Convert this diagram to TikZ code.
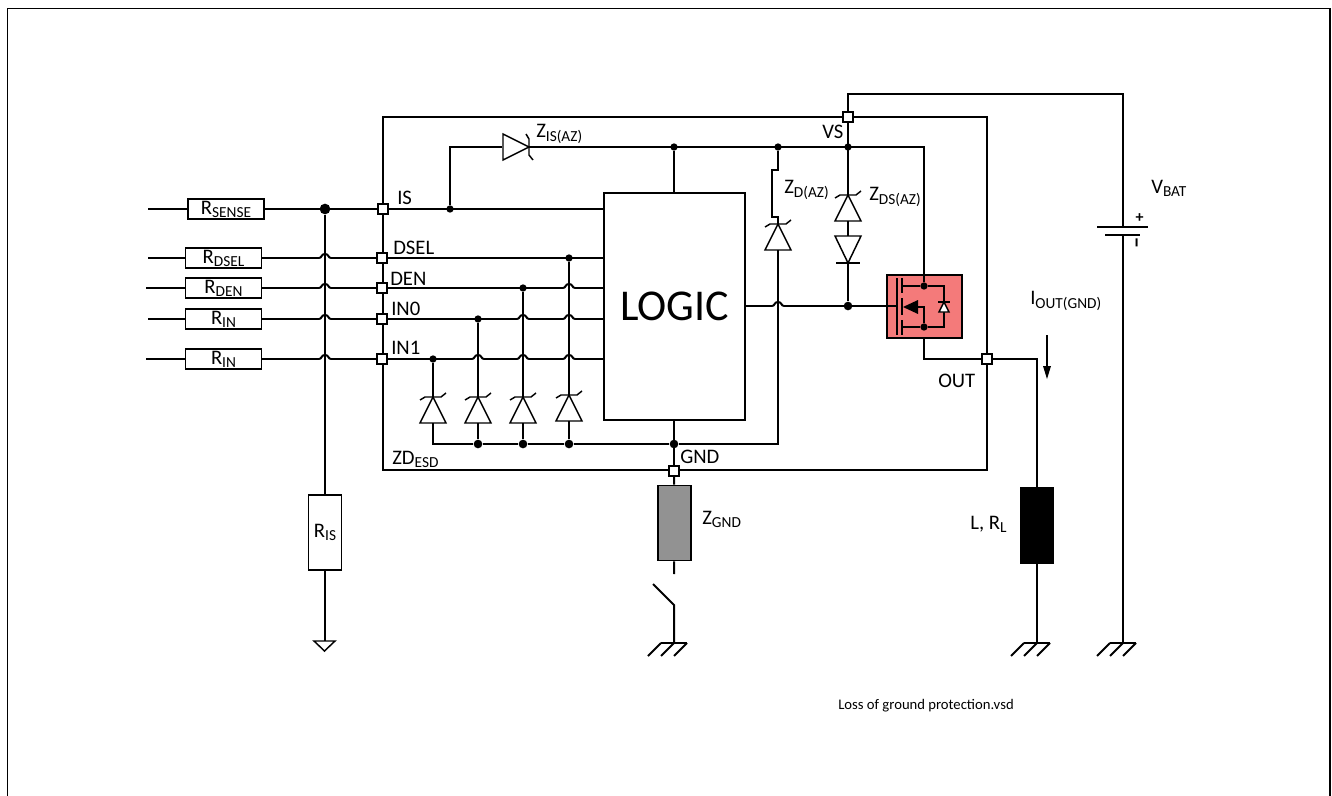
\documentclass[tikz,border=0pt]{standalone}
\usepackage{fontspec}
\setmainfont{Carlito}
\usetikzlibrary{backgrounds}

\newcommand{\lowtext}[2]{#1\raisebox{-0.32ex}{\fontsize{11.5}{11.5}\selectfont #2}}
\newcommand{\hop}[2]{
  \fill[white] (#1-6,#2-1.5) rectangle (#1+6,#2+1.5);
  \draw[wire] (#1-6,#2) .. controls (#1-3,#2) and (#1-4,#2-4) .. (#1,#2-4) .. controls (#1+4,#2-4) and (#1+3,#2) .. (#1+6,#2);
}

\tikzset{
  wire/.style={line width=1.5pt},
  thin wire/.style={line width=1.1pt},
  pinbox/.style={draw,fill=white,line width=1.1pt,minimum size=7.5pt,inner sep=0pt},
  resbox/.style={draw,fill=white,line width=1.1pt,minimum width=57pt,minimum height=15pt,inner sep=0pt,font=\fontsize{15.5}{15.5}\selectfont},
  tallbox/.style={draw,fill=white,line width=1.1pt,minimum width=24.5pt,minimum height=56.5pt,inner sep=0pt,font=\fontsize{15.5}{15.5}\selectfont},
  bigdot/.style={circle,fill=black,inner sep=0pt,minimum size=8pt},
  dot/.style={circle,fill=black,inner sep=0pt,minimum size=5.5pt},
  busdot/.style={circle,fill=black,inner sep=0pt,minimum size=6.5pt},
  lbl/.style={anchor=west,inner sep=0pt,font=\fontsize{15.5}{15.5}\selectfont},
  zener/.pic={
    \draw[thin wire] (-13,26) -- (13,26) -- (0,0) -- cycle;
    \draw[thin wire] (-13,3) -- (-8,0) -- (8,0) -- (13,-4);
  },
  diode/.pic={
    \draw[thin wire] (-13,0) -- (13,0) -- (0,27) -- cycle;
    \draw[thin wire] (-12,27) -- (12,27);
  },
  earth/.pic={
    \draw[wire] (-13,0) -- (13,0);
    \draw[wire] (-13,0) -- (-26,13);
    \draw[wire] (0,0) -- (-13,13);
    \draw[wire] (13,0) -- (0,13);
  }
}

\begin{document}
\begin{tikzpicture}[x=0.75pt,y=-0.75pt]
  \useasboundingbox (0,0) rectangle (1332,796);
  \draw[line width=0.8pt] (7.5,796) -- (7.5,8.5) -- (1330,8.5) -- (1330,796);

  % pins
  \node[pinbox] (pinIS) at (383,209) {};
  \node[pinbox] (pinDSEL) at (382,258) {};
  \node[pinbox] (pinDEN) at (382,288) {};
  \node[pinbox] (pinINa) at (382,319) {};
  \node[pinbox] (pinINb) at (382,359) {};
  \node[pinbox] (pinVS) at (848,117) {};
  \node[pinbox] (pinOUT) at (987,359) {};
  \node[pinbox] (pinGND) at (674,471) {};

  % parts
  \node[draw,wire,fill=white,minimum width=105.75pt,minimum height=170.25pt,inner sep=0pt,font=\fontsize{33}{33}\selectfont] (logic) at (674.5,306.5) {LOGIC};
  \node[resbox] (rSense) at (226,209) {\lowtext{R}{SENSE}};
  \node[resbox] (rDsel) at (223.5,258) {\lowtext{R}{DSEL}};
  \node[resbox] (rDen) at (223.5,288) {\lowtext{R}{DEN}};
  \node[resbox] (rInA) at (223.5,319) {\lowtext{R}{IN}};
  \node[resbox] (rInB) at (223.5,359) {\lowtext{R}{IN}};
  \node[tallbox] (rIs) at (325,532.5) {\lowtext{R}{IS}};
  \node[tallbox,fill={rgb,255:red,146;green,146;blue,146}] (zGnd) at (674.5,523) {};
  \node[tallbox,fill=black] (load) at (1037,525.5) {};
  \node[draw,wire,fill={rgb,255:red,244;green,122;blue,122},minimum width=56pt,minimum height=47pt,inner sep=0pt] (fet) at (924.5,306.5) {};

  % junctions
  \node[bigdot] (jSense) at (325,209) {};
  \node[dot] (jIs) at (450,209) {};
  \node[dot] (jDsel) at (569,258) {};
  \node[dot] (jDen) at (523,288) {};
  \node[dot] (jIna) at (478,319) {};
  \node[dot] (jInb) at (433,359) {};
  \node[dot] (jTop) at (674,147) {};
  \node[dot] (jZd) at (778,147) {};
  \node[dot] (jZds) at (848,147) {};
  \node[busdot] (jGate) at (848,306) {};
  \node[busdot] (jBusa) at (478,444) {};
  \node[busdot] (jBusb) at (523,444) {};
  \node[busdot] (jBusc) at (569,444) {};
  \node[busdot] (jBusd) at (674,444) {};
  \node[dot] (jDrain) at (924,286) {};
  \node[dot] (jSource) at (924,327) {};

  % free ends
  \coordinate (endSense) at (148,209);
  \coordinate (endDsel) at (148,258);
  \coordinate (endDen) at (146,288);
  \coordinate (endIna) at (148,319);
  \coordinate (endInb) at (146,359);
  \coordinate (icTL) at (382.5,117);
  \coordinate (icBR) at (987,470);
  \coordinate (gndRis) at (325,641);
  \coordinate (zGndEnd) at (674,574);
  \coordinate (swTip) at (653,584);
  \coordinate (swPivot) at (674,605);
  \coordinate (gndSw) at (674,643);
  \coordinate (gndLoad) at (1037,643);
  \coordinate (gndBat) at (1123,643);
  \coordinate (batTop) at (1123,94);
  \coordinate (batPlus) at (1123,227);
  \coordinate (batMinus) at (1123,235);
  \coordinate (loadCorner) at (1037,359);
  \coordinate (zIsBase) at (502,147);
  \coordinate (zIsTip) at (529,147);
  \coordinate (zdTop) at (778,224);
  \coordinate (zdBase) at (778,250);
  \coordinate (zdsTop) at (848,195);
  \coordinate (zdsBase) at (848,221);
  \coordinate (dsTop) at (848,236);
  \coordinate (dsBar) at (848,263);
  \coordinate (esdA) at (433,397);
  \coordinate (esdAb) at (433,423);
  \coordinate (esdB) at (478,397);
  \coordinate (esdBb) at (478,423);
  \coordinate (esdC) at (523,397);
  \coordinate (esdCb) at (523,423);
  \coordinate (esdD) at (569,395);
  \coordinate (esdDb) at (569,421);
  \coordinate (arrowTop) at (1047,335);
  \coordinate (arrowEnd) at (1047,379);

  \begin{scope}[on background layer]
    \draw[wire] (icTL) rectangle (icBR);

    % horizontal wires first, hops on them
    \draw[wire] (endSense) -- (rSense);
    \draw[wire] (rSense) -- (pinIS);
    \draw[wire] (pinIS) -- (logic.west |- pinIS);
    \draw[wire] (endDsel) -- (rDsel);
    \draw[wire] (rDsel) -- (pinDSEL);
    \draw[wire] (pinDSEL) -- (logic.west |- pinDSEL);
    \draw[wire] (endDen) -- (rDen);
    \draw[wire] (rDen) -- (pinDEN);
    \draw[wire] (pinDEN) -- (logic.west |- pinDEN);
    \draw[wire] (endIna) -- (rInA);
    \draw[wire] (rInA) -- (pinINa);
    \draw[wire] (pinINa) -- (logic.west |- pinINa);
    \draw[wire] (endInb) -- (rInB);
    \draw[wire] (rInB) -- (pinINb);
    \draw[wire] (pinINb) -- (logic.west |- pinINb);
    \draw[wire] (logic.east |- jGate) -- (fet.west |- jGate);

    \hop{325}{258}
    \hop{325}{288}
    \hop{325}{319}
    \hop{325}{359}
    \hop{569}{288}
    \hop{523}{319}
    \hop{569}{319}
    \hop{478}{359}
    \hop{523}{359}
    \hop{569}{359}
    \hop{778}{306}

    % vertical wires
    \draw[wire] (jSense) -- (rIs);
    \draw[wire] (rIs) -- (gndRis);
    \draw[wire] (jIs) |- (zIsBase);
    \draw[wire] (zIsTip) -| (fet.north -| jDrain);
    \draw[wire] (jTop) -- (logic.north -| jTop);
    \draw[wire] (jZd) -- (778,170) -- (772,170) -- (772,217) -- (778,217) -- (zdTop);
    \draw[wire] (zdBase) |- (jBusd);
    \draw[wire] (pinVS) -- (zdsTop);
    \draw[wire] (zdsBase) -- (dsTop);
    \draw[wire] (dsBar) -- (jGate);
    \draw[wire] (jInb) -- (esdA);
    \draw[wire] (jIna) -- (esdB);
    \draw[wire] (jDen) -- (esdC);
    \draw[wire] (jDsel) -- (esdD);
    \draw[wire] (esdAb) |- (jBusa);
    \draw[wire] (jBusa) -- (jBusb);
    \draw[wire] (jBusb) -- (jBusc);
    \draw[wire] (jBusc) -- (jBusd);
    \draw[wire] (esdBb) -- (jBusa);
    \draw[wire] (esdCb) -- (jBusb);
    \draw[wire] (esdDb) -- (jBusc);
    \draw[wire] (logic.south -| jBusd) -- (pinGND);
    \draw[wire] (pinGND) -- (zGnd);
    \draw[wire] (zGnd) -- (zGndEnd);
    \draw[wire] (swTip) -- (swPivot) -- (gndSw);
    \draw[wire] (jSource) -- (fet.south -| jSource) |- (pinOUT);
    \draw[wire] (pinOUT) -- (loadCorner) -- (load);
    \draw[wire] (load) -- (gndLoad);
    \draw[wire] (pinVS) |- (batTop) -- (batPlus);
    \draw[wire] (batMinus) -- (gndBat);
  \end{scope}

  % mosfet
  \draw[wire] (fet.west |- jGate) -- (897,306);
  \draw[wire] (897,278) -- (897,335);
  \draw[wire] (902,278) -- (902,293);
  \draw[wire] (902,298) -- (902,315);
  \draw[wire] (902,320) -- (902,335);
  \draw[wire] (902,286) -- (jDrain) -- (944,286) -- (944,327) -- (jSource) -- (902,327);
  \draw[wire] (fet.north -| jDrain) -- (jDrain);
  \draw[wire] (jSource) -- (924,307) -- (916,307);
  \fill (903,307) -- (918,300) -- (918,314) -- cycle;
  \draw[thin wire,fill=white] (939,312) -- (949,312) -- (944,302) -- cycle;
  \draw[wire] (938,302) -- (950,302);

  % zeners and such
  \pic at (esdA) {zener};
  \pic at (esdB) {zener};
  \pic at (esdC) {zener};
  \pic at (esdD) {zener};
  \pic at (zdTop) {zener};
  \pic at (zdsTop) {zener};
  \pic at (dsTop) {diode};
  \pic[rotate=-90] at (zIsTip) {zener};
  \pic at (gndSw) {earth};
  \pic at (gndLoad) {earth};
  \pic at (gndBat) {earth};
  \draw[thin wire] (gndRis) -- (314,641) -- (324.5,651) -- (335,641) -- cycle;

  % battery
  \draw[wire] (1097,227) -- (1148,227);
  \draw[wire] (1105,235) -- (1140,235);
  \node[inner sep=0pt,font=\bfseries\fontsize{12}{12}\selectfont] (batP) at (1139.5,218) {+};
  \node[inner sep=0pt,rotate=90,font=\bfseries\fontsize{17}{17}\selectfont] (batM) at (1139.5,243) {–};

  % current arrow
  \draw[thin wire] (arrowTop) -- (1047,368);
  \fill (arrowEnd) -- (1043,366) -- (1051,366) -- cycle;

  % labels
  \node[lbl] (lblIS) at (397,198) {IS};
  \node[lbl] (lblDSEL) at (393,248) {DSEL};
  \node[lbl] (lblDEN) at (390,279) {DEN};
  \node[lbl] (lblINa) at (391,309) {IN0};
  \node[lbl] (lblINb) at (391,348) {IN1};
  \node[lbl] (lblVS) at (822,132) {VS};
  \node[lbl] (lblOUT) at (938,381) {OUT};
  \node[lbl] (lblGND) at (680,457) {GND};
  \node[lbl] (lblESD) at (392,459) {\lowtext{ZD}{ESD}};
  \node[lbl] (lblZis) at (536,134) {\lowtext{Z}{IS(AZ)}};
  \node[lbl] (lblZd) at (784,190) {\lowtext{Z}{D(AZ)}};
  \node[lbl] (lblZds) at (869,197) {\lowtext{Z}{DS(AZ)}};
  \node[lbl] (lblBat) at (1151,188) {\lowtext{V}{BAT}};
  \node[lbl] (lblIout) at (1030,301) {\lowtext{I}{OUT(GND)}};
  \node[lbl] (lblZgnd) at (702,519) {\lowtext{Z}{GND}};
  \node[lbl] (lblLoad) at (970,524) {L, \lowtext{R}{L}};
  \node[lbl,font=\fontsize{11}{11}\selectfont] (lblFile) at (838,706) {Loss of ground protection.vsd};
\end{tikzpicture}
\end{document}
